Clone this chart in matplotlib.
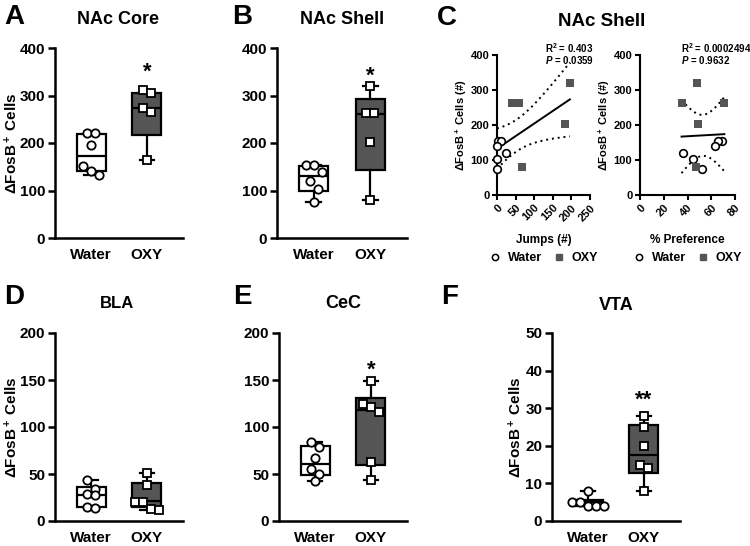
import numpy as np
import matplotlib; matplotlib.use("Agg")
import matplotlib.pyplot as plt
from matplotlib.lines import Line2D

W, H, DPI = 750, 546, 100
plt.rcParams.update({
    "font.family": "Liberation Sans", "font.weight": "bold",
    "axes.labelweight": "bold", "axes.titleweight": "bold",
    "mathtext.fontset": "custom", "mathtext.rm": "Liberation Sans:bold",
    "mathtext.it": "Liberation Sans:italic:bold", "mathtext.bf": "Liberation Sans:bold",
    "figure.facecolor": "white", "axes.facecolor": "white",
})
DARK = "#555555"
LW = 1.8

# ---------------------------------------------------------------- data
GROUPS = ["Water", "OXY"]

# box stats are [min, q1, median, q3, max]
A_WATER = [222, 222, 196, 152, 142, 132]
A_OXY = [312, 306, 273, 266, 164]
A_WATER_BOX = [132, 141, 173, 218, 222]
A_OXY_BOX = [164, 217, 274, 306, 312]

B_WATER = [153, 153, 139, 120, 104, 75]
B_OXY = [320, 264, 263, 203, 80]
B_WATER_BOX = [75, 99, 130, 151, 153]
B_OXY_BOX = [80, 143, 262, 292, 320]

D_WATER = [44, 34, 29, 28, 15, 14]
D_OXY = [51, 38, 20, 20, 13, 12]
D_WATER_BOX = [14, 14.5, 28, 36, 44]
D_OXY_BOX = [12, 15, 21, 40, 51]

E_WATER = [84, 79, 67, 55, 50, 43]
E_OXY = [149, 125, 121, 116, 63, 44]
E_WATER_BOX = [43, 49, 61, 80, 84]
E_OXY_BOX = [44, 60, 118, 131, 149]

F_WATER = [8, 5, 5, 4, 4, 4]
F_OXY = [28, 25, 20, 15, 14, 8]
F_WATER_BOX = [4, 4, 5, 5.5, 8]
F_OXY_BOX = [8, 12.8, 17.5, 25.5, 28]

# panel C: same NAc shell animals as B, against jumps and % preference
C_WATER_JUMPS = [2, 11, 0, 25, 1, 0]
C_OXY_JUMPS = [196, 58, 40, 183, 67]
C_WATER_PREF = [69, 66, 63, 36, 45, 52]
C_OXY_PREF = [48, 35, 71, 49, 47]
C_STATS = [("0.403", "0.0359"), ("0.0002494", "0.9632")]
T_975_DF9 = 2.262

fig = plt.figure(figsize=(W / DPI, H / DPI), dpi=DPI)


def rect(l, t, r, b):
    return [l / W, 1 - b / H, (r - l) / W, (b - t) / H]


def ftext(x, y, s, **kw):
    fig.text(x / W, 1 - y / H, s, ha="center", va="center", **kw)


def swarm(ax, x0, vals, diam):
    # group points that sit close in pixel space, spread each group symmetrically
    tr = ax.transData
    pts = tr.transform(np.column_stack([np.full(len(vals), x0), vals]))
    order = np.argsort(-pts[:, 1])
    xs = pts[:, 0].copy()
    groups, cur = [], [order[0]]
    for i in order[1:]:
        if abs(pts[cur[0], 1] - pts[i, 1]) < 1.2 * diam:
            cur.append(i)
        else:
            groups.append(cur); cur = [i]
    groups.append(cur)
    for g in groups:
        k = len(g)
        for j, i in enumerate(g):
            xs[i] = pts[i, 0] + (j - (k - 1) / 2) * 0.85 * diam
    return tr.inverted().transform(np.column_stack([xs, pts[:, 1]]))[:, 0]


def box_panel(r, water, oxy, wbox, obox, ymax, ystep, star=None, ylabel=None):
    ax = fig.add_axes(r)
    ax.set_xlim(-0.65, 1.65); ax.set_ylim(0, ymax)
    for pos, st, fc in [(0, wbox, "white"), (1, obox, DARK)]:
        lo, q1, med, q3, hi = st
        ax.bxp([dict(whislo=lo, q1=q1, med=med, q3=q3, whishi=hi)], positions=[pos],
               widths=0.52, capwidths=0.26, patch_artist=True, showfliers=False,
               boxprops=dict(facecolor=fc, edgecolor="black", linewidth=1.6),
               medianprops=dict(color="black", linewidth=1.6),
               whiskerprops=dict(color="black", linewidth=1.6),
               capprops=dict(color="black", linewidth=1.6))
    ms = 6
    for pos, vals, mk in [(0, water, "o"), (1, oxy, "s")]:
        xs = swarm(ax, pos, vals, ms * DPI / 72 + 1)
        ax.plot(xs, vals, ls="none", marker=mk, ms=ms, mfc="white", mec="black", mew=1.3,
                zorder=5, clip_on=False)
    ax.set_xticks([0, 1]); ax.set_xticklabels(GROUPS, fontsize=11)
    ax.set_yticks(np.arange(0, ymax + 1, ystep))
    ax.tick_params(axis="x", length=0, pad=7)
    ax.tick_params(axis="y", length=5, width=LW, labelsize=11, pad=2)
    for s in ["top", "right"]:
        ax.spines[s].set_visible(False)
    for s in ["left", "bottom"]:
        ax.spines[s].set_linewidth(LW)
    if star:
        ax.text(1, star[1], star[0], ha="center", va="center", fontsize=16)
    if ylabel is not None:
        ax.set_ylabel(r"ΔFosB$^+$ Cells", fontsize=11)
        ax.yaxis.set_label_coords(ylabel, 0.5)
    return ax


box_panel(rect(55, 48, 183, 238), A_WATER, A_OXY, A_WATER_BOX, A_OXY_BOX, 400, 100,
          star=("*", 350), ylabel=-0.27)
box_panel(rect(277, 48, 407, 238), B_WATER, B_OXY, B_WATER_BOX, B_OXY_BOX, 400, 100,
          star=("*", 340))
box_panel(rect(55, 333, 183, 521), D_WATER, D_OXY, D_WATER_BOX, D_OXY_BOX, 200, 50,
          ylabel=-0.27)
box_panel(rect(279, 333, 407, 521), E_WATER, E_OXY, E_WATER_BOX, E_OXY_BOX, 200, 50,
          star=("*", 160))
box_panel(rect(552, 333, 680, 521), F_WATER, F_OXY, F_WATER_BOX, F_OXY_BOX, 50, 10,
          star=("**", 32), ylabel=-0.22)

# ---------------------------------------------------------------- panel C
c_specs = [
    (rect(497, 55, 590, 195), C_WATER_JUMPS, C_OXY_JUMPS, 250, 50, "Jumps (#)", 0.52),
    (rect(640, 55, 735, 195), C_WATER_PREF, C_OXY_PREF, 80, 20, "% Preference", 0.43),
]
for (r, xw, xo, xmax, xstep, xlab, tx), (r2, p) in zip(c_specs, C_STATS):
    ax = fig.add_axes(r)
    x = np.array(xw + xo, float); y = np.array(B_WATER + B_OXY, float)
    b1, b0 = np.polyfit(x, y, 1)
    xx = np.linspace(x.min(), x.max(), 100)
    n = len(x); s = np.sqrt(np.sum((y - (b0 + b1 * x)) ** 2) / (n - 2))
    se = s * np.sqrt(1 / n + (xx - x.mean()) ** 2 / np.sum((x - x.mean()) ** 2))
    ax.plot(xx, b0 + b1 * xx, color="black", lw=1.4)
    ax.plot(xx, b0 + b1 * xx + T_975_DF9 * se, color="black", lw=1.4, ls=(0, (1, 2)))
    ax.plot(xx, b0 + b1 * xx - T_975_DF9 * se, color="black", lw=1.4, ls=(0, (1, 2)))
    ax.plot(xw, B_WATER, ls="none", marker="o", ms=5.5, mfc="white", mec="black", mew=1.2,
            zorder=5, clip_on=False)
    ax.plot(xo, B_OXY, ls="none", marker="s", ms=5.5, mfc=DARK, mec=DARK, mew=0,
            zorder=5, clip_on=False)
    ax.set_xlim(0, xmax); ax.set_ylim(0, 400)
    ax.set_xticks(np.arange(0, xmax + 1, xstep)); ax.set_yticks(np.arange(0, 401, 100))
    ax.set_xticklabels([str(v) for v in np.arange(0, xmax + 1, xstep)], rotation=45,
                       ha="right", rotation_mode="anchor")
    ax.tick_params(length=3.5, width=1.5, labelsize=8, pad=2)
    for sname in ["top", "right"]:
        ax.spines[sname].set_visible(False)
    for sname in ["left", "bottom"]:
        ax.spines[sname].set_linewidth(1.5)
    ax.set_ylabel(r"ΔFosB$^+$ Cells (#)", fontsize=8, labelpad=1)
    ax.set_xlabel(xlab, fontsize=8.5)
    ax.xaxis.set_label_coords(0.5, -0.28)
    ax.text(tx, 1.05, r"R$^2$ = " + r2, transform=ax.transAxes, fontsize=7, va="center")
    ax.text(tx, 0.965, r"$P$ = " + p, transform=ax.transAxes, fontsize=7, va="center")
    handles = [Line2D([], [], ls="none", marker="o", ms=4.5, mfc="white", mec="black", mew=1.1),
               Line2D([], [], ls="none", marker="s", ms=4.5, mfc=DARK, mec=DARK)]
    ax.legend(handles, GROUPS, loc="center", bbox_to_anchor=(0.5, -0.45), ncol=2,
              frameon=False, fontsize=9, handletextpad=0.5, columnspacing=0.9,
              handlelength=1.0)

# ---------------------------------------------------------------- titles / letters
for (x, y, s) in [(14, 17, "A"), (242, 17, "B"), (447, 18, "C"),
                  (14, 297, "D"), (242, 297, "E"), (450, 297, "F")]:
    ftext(x, y, s, fontsize=20)
for (x, y, s, fs) in [(118, 20, "NAc Core", 13), (342, 20, "NAc Shell", 13),
                      (602, 22, "NAc Shell", 13.5), (117, 303, "BLA", 12),
                      (343, 304, "CeC", 13), (616, 305, "VTA", 13)]:
    ftext(x, y, s, fontsize=fs)

fig.savefig("out.png", dpi=DPI)
